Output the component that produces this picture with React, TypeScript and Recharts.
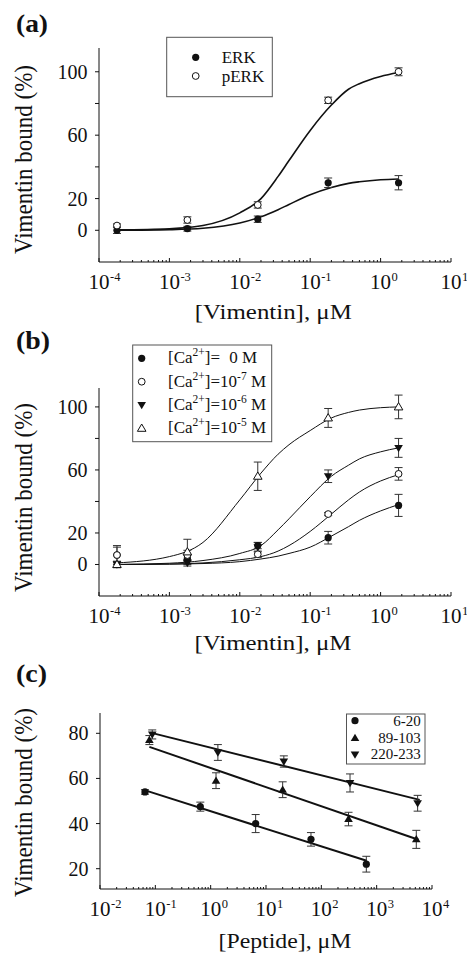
import React from "react";
import { ComposedChart, Line, Scatter, XAxis, YAxis, ErrorBar } from "recharts";

const FONT = "Liberation Serif";
const INK = "#111";

// panel (a): ERK / pERK binding
const A_X = [1.8e-4, 1.8e-3, 1.8e-2, 0.18, 1.8];
const A_ERK = [0, 1, 7, 30, 30];
const A_ERK_ERR = [2, 1.5, 2, 3, 4.5];
const A_PERK = [3, 6.5, 16, 82, 100];
const A_PERK_ERR = [1, 2, 2, 2, 2.5];
const FIT_X = [1.8e-4, 1e-3, 3e-3, 1e-2, 2e-2, 3.5e-2, 5e-2, 0.1, 0.2, 0.35, 0.5, 1, 1.8];
const A_ERK_FIT = [0, 0.4, 1.3, 4.6, 8.5, 13, 16.3, 22.4, 27, 29.6, 30.6, 31.9, 32.4];
const A_PERK_FIT = [0.3, 1, 3, 11, 20, 34, 44, 63, 79, 89, 92.5, 97, 99.5];

// panel (b): calcium series
const B_CA0 = [6, 4, 12, 17, 37.5];
const B_CA0_ERR = [6, 2, 2, 4, 7];
const B_CA7 = [6, 6, 6.5, 32, 57.5];
const B_CA7_ERR = [5, 3, 2, 1, 4];
const B_CA6 = [0, 1, 11, 56, 74];
const B_CA6_ERR = [2, 2, 3, 4, 6];
const B_CA5 = [0, 8, 56, 93, 100];
const B_CA5_ERR = [2, 8, 9, 6, 7.5];
const B_CA0_FIT = [0, 0.2, 0.6, 1.8, 3.5, 5.3, 7, 11, 18, 24, 28, 34, 38];
const B_CA7_FIT = [0, 0.3, 1, 3, 5, 8.5, 12, 21, 32, 41, 46, 53, 57];
const B_CA6_FIT = [0, 0.8, 2.5, 7, 12, 22, 29, 43, 56, 63, 67, 71.5, 74];
const B_CA5_FIT = [1, 5, 14, 41, 58, 70, 76, 85, 93, 96.5, 98, 99.5, 100];

// panel (c): peptides
const C_620_X = [0.065, 0.65, 6.5, 65, 650];
const C_620 = [54, 47.5, 40, 33, 22];
const C_620_ERR = [1, 2, 4, 3, 3.5];
const C_89_X = [0.078, 1.25, 20, 310, 5200];
const C_89 = [77, 59, 55, 42, 33];
const C_89_ERR = [2, 3.5, 3.5, 3, 4];
const C_220_X = [0.088, 1.35, 21, 330, 5500];
const C_220 = [79.5, 71.5, 67.5, 58, 49];
const C_220_ERR = [2, 3.5, 2.5, 4, 3.5];
const C_620_FIT_X = [0.068, 660];
const C_620_FIT = [54.6, 23.5];
const C_89_FIT_X = [0.078, 5700];
const C_89_FIT = [74, 32.8];
const C_220_FIT_X = [0.085, 6000];
const C_220_FIT = [80.2, 50.5];

const VIM_DECADES = [1e-4, 1e-3, 1e-2, 1e-1, 1, 10];
const VIM_EXP = ["-4", "-3", "-2", "-1", "0", "1"];
const PEP_DECADES = [1e-2, 1e-1, 1, 10, 100, 1000, 10000];
const PEP_EXP = ["-2", "-1", "0", "1", "2", "3", "4"];
const AB_Y_TICKS = [0, 20, 40, 60, 80, 100];
const AB_Y_LABELS = [0, 20, 60, 100];
const C_Y_TICKS = [20, 40, 60, 80];

const pts = (xs: number[], ys: number[], es?: number[]) =>
  xs.map((x, i) => ({ x, y: ys[i], e: es ? es[i] : 0 }));

const withMinor = (decades: number[]) => {
  const out: number[] = [];
  decades.forEach((d, i) => {
    out.push(d);
    if (i < decades.length - 1) for (let k = 2; k <= 9; k++) out.push(d * k);
  });
  return out;
};

const txt = { fontFamily: FONT };

const makeLogTick = (decades: number[], exps: string[]) => (props: any) => {
  const { x, y, payload } = props;
  const idx = decades.findIndex((d) => Math.abs(d - payload.value) / d < 1e-6);
  const major = idx >= 0;
  return (
    <g>
      <line x1={x} x2={x} y1={y} y2={y - (major ? 4 : 2)} stroke={INK} strokeWidth={1} />
      {major && (
        <>
          <text x={x} y={y + 27} textAnchor="middle" style={txt} fontSize={21} fill={INK}>10</text>
          <text x={x + 11} y={y + 19} textAnchor="start" style={txt} fontSize={12.5} fill={INK}>{exps[idx]}</text>
        </>
      )}
    </g>
  );
};

const makeYTick = (labelled: number[]) => (props: any) => {
  const { x, y, payload } = props;
  return (
    <g>
      <line x1={x} x2={x - 4} y1={y} y2={y} stroke={INK} strokeWidth={1} />
      {labelled.includes(payload.value) && (
        <text x={x - 11.5} y={y} dy="0.35em" textAnchor="end" style={txt} fontSize={20} fill={INK}>
          {payload.value}
        </text>
      )}
    </g>
  );
};

// marker shapes
const dotFilled = (p: any) => <circle cx={p.cx} cy={p.cy} r={3.6} fill={INK} />;
const dotOpen = (p: any) => <circle cx={p.cx} cy={p.cy} r={3.4} fill="#fff" stroke={INK} strokeWidth={1} />;
const triDown = (p: any) => (
  <path d={`M${p.cx - 4.3},${p.cy - 3} L${p.cx + 4.3},${p.cy - 3} L${p.cx},${p.cy + 4.3} Z`} fill={INK} />
);
const triUp = (p: any) => (
  <path d={`M${p.cx},${p.cy - 4.3} L${p.cx + 4.3},${p.cy + 3} L${p.cx - 4.3},${p.cy + 3} Z`} fill={INK} />
);
const triUpOpen = (p: any) => (
  <path d={`M${p.cx},${p.cy - 4.3} L${p.cx + 4.3},${p.cy + 3} L${p.cx - 4.3},${p.cy + 3} Z`} fill="#fff" stroke={INK} strokeWidth={1} />
);

const fitLine = (data: any[], w: number, key: string) => (
  <Line key={key} data={data} dataKey="y" type="monotone" dot={false} stroke={INK} strokeWidth={w} isAnimationActive={false} />
);

const points = (data: any[], shape: any, key: string) => (
  <Scatter key={key} data={data} shape={shape} fill={INK} isAnimationActive={false}>
    <ErrorBar dataKey="e" direction="y" width={4} stroke="#333" strokeWidth={1} />
  </Scatter>
);

const axisLine = { stroke: INK, strokeWidth: 1 };

const Sup = ({ children }: { children: string }) => (
  <tspan dy={-7} fontSize={11.5}>{children}</tspan>
);

export default function App() {
  const vimTicks = withMinor(VIM_DECADES);
  const pepTicks = withMinor(PEP_DECADES);
  const vimTick = makeLogTick(VIM_DECADES, VIM_EXP);
  const pepTick = makeLogTick(PEP_DECADES, PEP_EXP);

  return (
    <div style={{ position: "absolute", left: 0, top: 0, width: 467, height: 956, background: "#fff", fontFamily: FONT }}>
      {/* (a) */}
      <div style={{ position: "absolute", left: 0, top: 0 }}>
        <ComposedChart width={467} height={300} margin={{ top: 48, right: 16, bottom: 0, left: 0 }}>
          <XAxis type="number" dataKey="x" scale="log" domain={[1e-4, 10]} allowDataOverflow ticks={vimTicks}
            interval={0} height={38} tickSize={0} tickMargin={0} tickLine={false} axisLine={axisLine} tick={vimTick} />
          <YAxis type="number" dataKey="y" domain={[-20, 115]} allowDataOverflow ticks={AB_Y_TICKS}
            interval={0} width={99} tickSize={0} tickMargin={0} tickLine={false} axisLine={axisLine} tick={makeYTick(AB_Y_LABELS)} />
          {fitLine(pts(FIT_X, A_ERK_FIT), 1.6, "f1")}
          {fitLine(pts(FIT_X, A_PERK_FIT), 1.6, "f2")}
          {points(pts(A_X, A_ERK, A_ERK_ERR), dotFilled, "p1")}
          {points(pts(A_X, A_PERK, A_PERK_ERR), dotOpen, "p2")}
        </ComposedChart>
      </div>

      {/* (b) */}
      <div style={{ position: "absolute", left: 0, top: 300 }}>
        <ComposedChart width={467} height={330} margin={{ top: 88, right: 16, bottom: 0, left: 0 }}>
          <XAxis type="number" dataKey="x" scale="log" domain={[1e-4, 10]} allowDataOverflow ticks={vimTicks}
            interval={0} height={34} tickSize={0} tickMargin={0} tickLine={false} axisLine={axisLine} tick={vimTick} />
          <YAxis type="number" dataKey="y" domain={[-20, 112]} allowDataOverflow ticks={AB_Y_TICKS}
            interval={0} width={99} tickSize={0} tickMargin={0} tickLine={false} axisLine={axisLine} tick={makeYTick(AB_Y_LABELS)} />
          {fitLine(pts(FIT_X, B_CA0_FIT), 1, "f1")}
          {fitLine(pts(FIT_X, B_CA7_FIT), 1, "f2")}
          {fitLine(pts(FIT_X, B_CA6_FIT), 1, "f3")}
          {fitLine(pts(FIT_X, B_CA5_FIT), 1, "f4")}
          {points(pts(A_X, B_CA0, B_CA0_ERR), dotFilled, "p1")}
          {points(pts(A_X, B_CA7, B_CA7_ERR), dotOpen, "p2")}
          {points(pts(A_X, B_CA6, B_CA6_ERR), triDown, "p3")}
          {points(pts(A_X, B_CA5, B_CA5_ERR), triUpOpen, "p4")}
        </ComposedChart>
      </div>

      {/* (c) */}
      <div style={{ position: "absolute", left: 0, top: 630 }}>
        <ComposedChart width={467} height={326} margin={{ top: 83, right: 35, bottom: 0, left: 0 }}>
          <XAxis type="number" dataKey="x" scale="log" domain={[1e-2, 1e4]} allowDataOverflow ticks={pepTicks}
            interval={0} height={67} tickSize={0} tickMargin={0} tickLine={false} axisLine={axisLine} tick={pepTick} />
          <YAxis type="number" dataKey="y" domain={[11, 89]} allowDataOverflow ticks={C_Y_TICKS}
            interval={0} width={100} tickSize={0} tickMargin={0} tickLine={false} axisLine={axisLine} tick={makeYTick(C_Y_TICKS)} />
          {fitLine(pts(C_620_FIT_X, C_620_FIT), 2, "f1")}
          {fitLine(pts(C_89_FIT_X, C_89_FIT), 2, "f2")}
          {fitLine(pts(C_220_FIT_X, C_220_FIT), 2, "f3")}
          {points(pts(C_620_X, C_620, C_620_ERR), dotFilled, "p1")}
          {points(pts(C_89_X, C_89, C_89_ERR), triUp, "p2")}
          {points(pts(C_220_X, C_220, C_220_ERR), triDown, "p3")}
        </ComposedChart>
      </div>

      {/* titles, axis labels and legends */}
      <svg width={467} height={956} style={{ position: "absolute", left: 0, top: 0, pointerEvents: "none", fontFamily: FONT }}
        fill={INK}>
        <text x={16} y={32} fontSize={25} fontWeight="bold" textLength={32} lengthAdjust="spacingAndGlyphs">(a)</text>
        <text x={16} y={348.5} fontSize={25} fontWeight="bold" textLength={34} lengthAdjust="spacingAndGlyphs">(b)</text>
        <text x={16} y={682} fontSize={25} fontWeight="bold" textLength={31} lengthAdjust="spacingAndGlyphs">(c)</text>

        {[159.5, 497.5, 802.5].map((cy, i) => (
          <text key={i} x={31.5} y={cy} transform={`rotate(-90 31.5 ${cy})`} textAnchor="middle" fontSize={25}
            textLength={189} lengthAdjust="spacingAndGlyphs">Vimentin bound (%)</text>
        ))}

        <text x={273.3} y={319} textAnchor="middle" fontSize={22} textLength={157} lengthAdjust="spacingAndGlyphs">[Vimentin], μM</text>
        <text x={273} y={650} textAnchor="middle" fontSize={22} textLength={157} lengthAdjust="spacingAndGlyphs">[Vimentin], μM</text>
        <text x={285} y={948} textAnchor="middle" fontSize={22} textLength={133} lengthAdjust="spacingAndGlyphs">[Peptide], μM</text>

        {/* legend (a) */}
        <rect x={166.7} y={37.3} width={105.6} height={59.4} fill="#fff" stroke="#555" strokeWidth={1} />
        {dotFilled({ cx: 195.7, cy: 57.3 })}
        {dotOpen({ cx: 195.7, cy: 76 })}
        <text x={221.7} y={62.7} fontSize={17}>ERK</text>
        <text x={221.7} y={81.5} fontSize={17}>pERK</text>

        {/* legend (b) */}
        <rect x={132.7} y={345} width={139} height={96.7} fill="#fff" stroke="#555" strokeWidth={1} />
        {dotFilled({ cx: 141.7, cy: 358.3 })}
        {dotOpen({ cx: 141.7, cy: 381.7 })}
        {triDown({ cx: 141.7, cy: 405 })}
        {triUpOpen({ cx: 141.7, cy: 428.3 })}
        <text x={168} y={363.3} fontSize={17}>[Ca<Sup>2+</Sup><tspan dy={7}>]=</tspan><tspan x={229.3}>0 M</tspan></text>
        {[["-7", 386.7], ["-6", 410], ["-5", 433.3]].map(([e, y]) => (
          <text key={e as string} x={168} y={y as number} fontSize={17}>
            [Ca<Sup>2+</Sup><tspan dy={7}>]=10</tspan><Sup>{e as string}</Sup><tspan dy={7}> M</tspan>
          </text>
        ))}

        {/* legend (c) */}
        <rect x={346.5} y={714} width={78.5} height={50} fill="#fff" stroke="#555" strokeWidth={1} />
        {dotFilled({ cx: 355, cy: 720.7 })}
        {triUp({ cx: 355, cy: 738 })}
        {triDown({ cx: 355, cy: 754.5 })}
        <text x={420.7} y={726} fontSize={15} textAnchor="end">6-20</text>
        <text x={420.7} y={742.7} fontSize={15} textAnchor="end">89-103</text>
        <text x={420.7} y={759.4} fontSize={15} textAnchor="end">220-233</text>
      </svg>
    </div>
  );
}
